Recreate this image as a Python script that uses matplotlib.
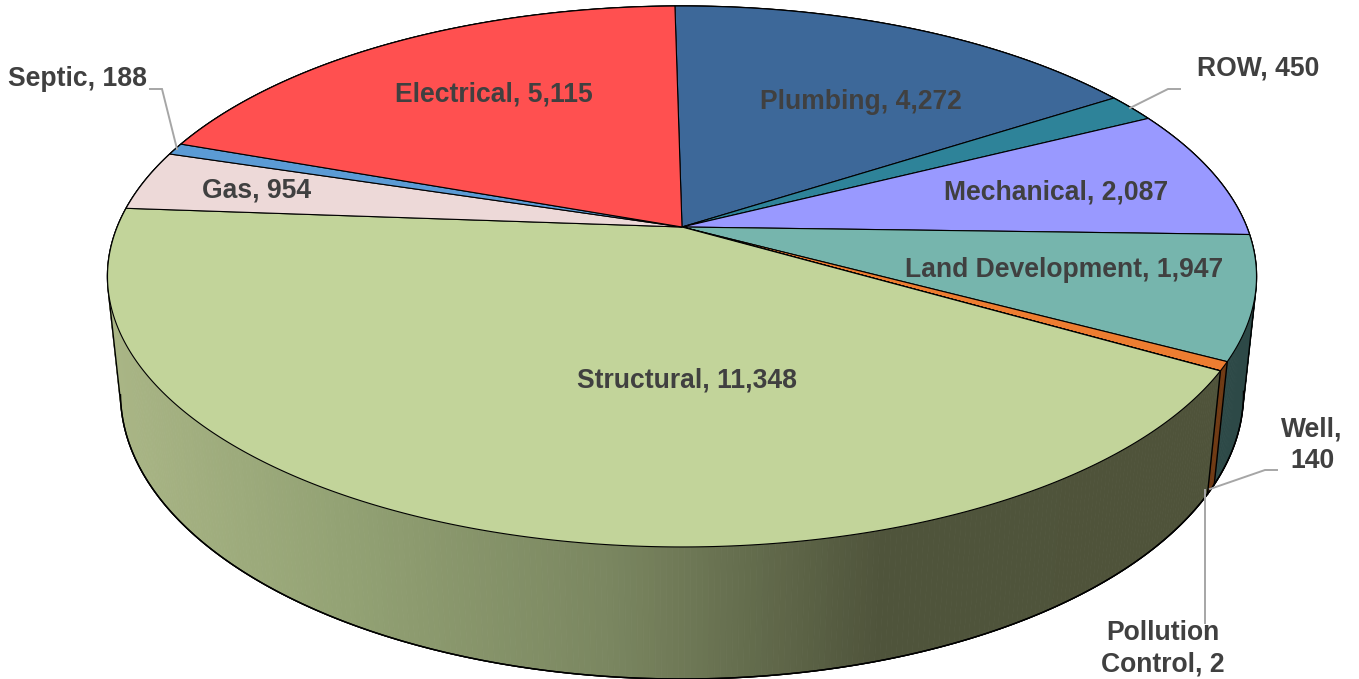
import numpy as np
import matplotlib
matplotlib.use("Agg")
import matplotlib.pyplot as plt
from matplotlib.patches import Polygon
from matplotlib.colors import to_rgb

# ---- data (clockwise from the top) ----
categories = ["Plumbing", "ROW", "Mechanical", "Land Development", "Well",
              "Pollution Control", "Structural", "Gas", "Septic", "Electrical"]
values = [4272, 450, 2087, 1947, 140, 2, 11348, 954, 188, 5115]
top_colors = ["#3D6899", "#2E8399", "#9999FF", "#76B5AD", "#ED7D31",
              "#7F3F10", "#C2D49A", "#EDD9D8", "#5B9BD5", "#FF5050"]
side_colors = ["#263F5C", "#1C505D", "#5D5D9B", "#2D4947", "#6F3A14",
               "#4D2608", "#4F533A", "#90827F", "#37607F", "#9B3030"]
label_pos = [(861, 102), (1258, 69), (1056, 193), (1064, 270), (1312, 445),
             (1163, 649), (687, 381), (257, 190), (77, 79), (494, 94)]
label_text = ["Plumbing, 4,272", "ROW, 450", "Mechanical, 2,087",
              "Land Development, 1,947", "Well,\n140", "Pollution\nControl, 2",
              "Structural, 11,348", "Gas, 954", "Septic, 188", "Electrical, 5,115"]
leaders = [[(150, 89), (162, 89), (177, 149)],
           [(1180, 89), (1168, 89), (1130, 108)],
           [(1277, 470), (1265, 470), (1210, 489)],
           [(1205, 623), (1205, 490)]]

# ---- projection of the tilted cylinder ----
CX, CY = 682.0, 227.0
A, B, K = 564.8, 261.4, 0.183
M, C = 0.0224, 118.0
START_DEG = -0.85


def project(theta_deg, h=0.0):
    t = np.radians(theta_deg)
    u, v = np.sin(t), np.cos(t)
    w = 1 + K * v + M * h
    return CX + A * u / w, CY + (-B * v + C * h) / w


def hull(points):
    pts = sorted(set(map(tuple, points)))
    def half(seq):
        out = []
        for p in seq:
            while len(out) > 1 and ((out[-1][0]-out[-2][0])*(p[1]-out[-2][1])
                                    - (out[-1][1]-out[-2][1])*(p[0]-out[-2][0])) <= 0:
                out.pop()
            out.append(p)
        return out[:-1]
    return half(pts) + half(pts[::-1])


fig = plt.figure(figsize=(13.59, 6.79), dpi=100)
ax = fig.add_axes([0, 0, 1, 1])
ax.set_xlim(0, 1359)
ax.set_ylim(679, 0)
ax.axis("off")

sweep = 360.0 * np.array(values) / sum(values)
starts = START_DEG + np.concatenate([[0], np.cumsum(sweep)[:-1]])
ends = starts + sweep
EDGE = "black"

# silhouette of the whole solid
all_t = np.linspace(0, 360, 721)
tx, ty = project(all_t)
bx, by = project(all_t, 1.0)
hp = hull(np.round(np.column_stack([np.r_[tx, bx], np.r_[ty, by]]), 3))
ax.add_patch(Polygon(hp, closed=True, fc="none", ec=EDGE, lw=1.0, zorder=1))

# gradient stops for the big front wall, by screen x
grad_x = [110, 345, 612, 880, 1230]
grad_c = np.array([to_rgb(c) for c in ["#AAB686", "#93A274", "#7A8660", "#4F543B", "#4F533A"]])


def wall(t0, t1, color=None, gradient=False, z=1.5):
    n = max(2, int(abs(t1 - t0) * 2))
    ts = np.linspace(t0, t1, n)
    for a, b in zip(ts[:-1], ts[1:]):
        pa, pb = project(a), project(b)
        qa, qb = project(a, 1.0), project(b, 1.0)
        if gradient:
            xm = (pa[0] + pb[0] + qa[0] + qb[0]) / 4
            c = [np.interp(xm, grad_x, grad_c[:, i]) for i in range(3)]
        else:
            c = color
        ax.add_patch(Polygon([pa, pb, qb, qa], closed=True, fc=c, ec=c, lw=0.6, zorder=z))


idx_land = categories.index("Land Development")
idx_well = categories.index("Well")
idx_pc = categories.index("Pollution Control")
idx_str = categories.index("Structural")

# right-hand walls, drawn back to front
wall(starts[idx_land], ends[idx_land], side_colors[idx_land], z=1.5)
wall(starts[idx_well], ends[idx_well], side_colors[idx_well], z=1.6)
wall(starts[idx_pc], ends[idx_pc], side_colors[idx_pc], z=1.6)
# the big wall: from its far (left) end towards the right
wall(min(ends[idx_str], 275), starts[idx_str], gradient=True, z=1.7)

# bottom rim + wall separators
for i in (idx_land, idx_well, idx_str):
    ts = np.linspace(starts[i], ends[i], 200)
    xb, yb = project(ts, 1.0)
    keep = np.cos(np.radians(ts)) < -0.17
    ax.plot(xb[keep], yb[keep], color=EDGE, lw=1.0, zorder=2)
for t in (ends[idx_land], ends[idx_well]):
    p, q = project(t), project(t, 1.0)
    ax.plot([p[0], q[0]], [p[1], q[1]], color=EDGE, lw=1.0, zorder=2)
# silhouette lines redrawn above the walls
ax.add_patch(Polygon(hp, closed=True, fc="none", ec=EDGE, lw=1.0, zorder=2))

# top face
for s, e, col in zip(starts, ends, top_colors):
    ts = np.linspace(s, e, max(2, int((e - s) * 3)))
    xs, ys = project(ts)
    pts = np.column_stack([np.r_[CX, xs], np.r_[CY, ys]])
    ax.add_patch(Polygon(pts, closed=True, fc=col, ec=EDGE, lw=0.8,
                         joinstyle="round", zorder=3))

# leader lines
for line in leaders:
    xs, ys = zip(*line)
    ax.plot(xs, ys, color="#A6A6A6", lw=1.4, zorder=4, solid_joinstyle="miter")

# labels
for txt, (x, y) in zip(label_text, label_pos):
    ax.text(x, y, txt, ha="center", va="center", family="Liberation Sans",
            weight="bold", fontsize=19.1, color="#404040", linespacing=1.28, zorder=5)

fig.savefig("out.png", dpi=100, facecolor="white")
